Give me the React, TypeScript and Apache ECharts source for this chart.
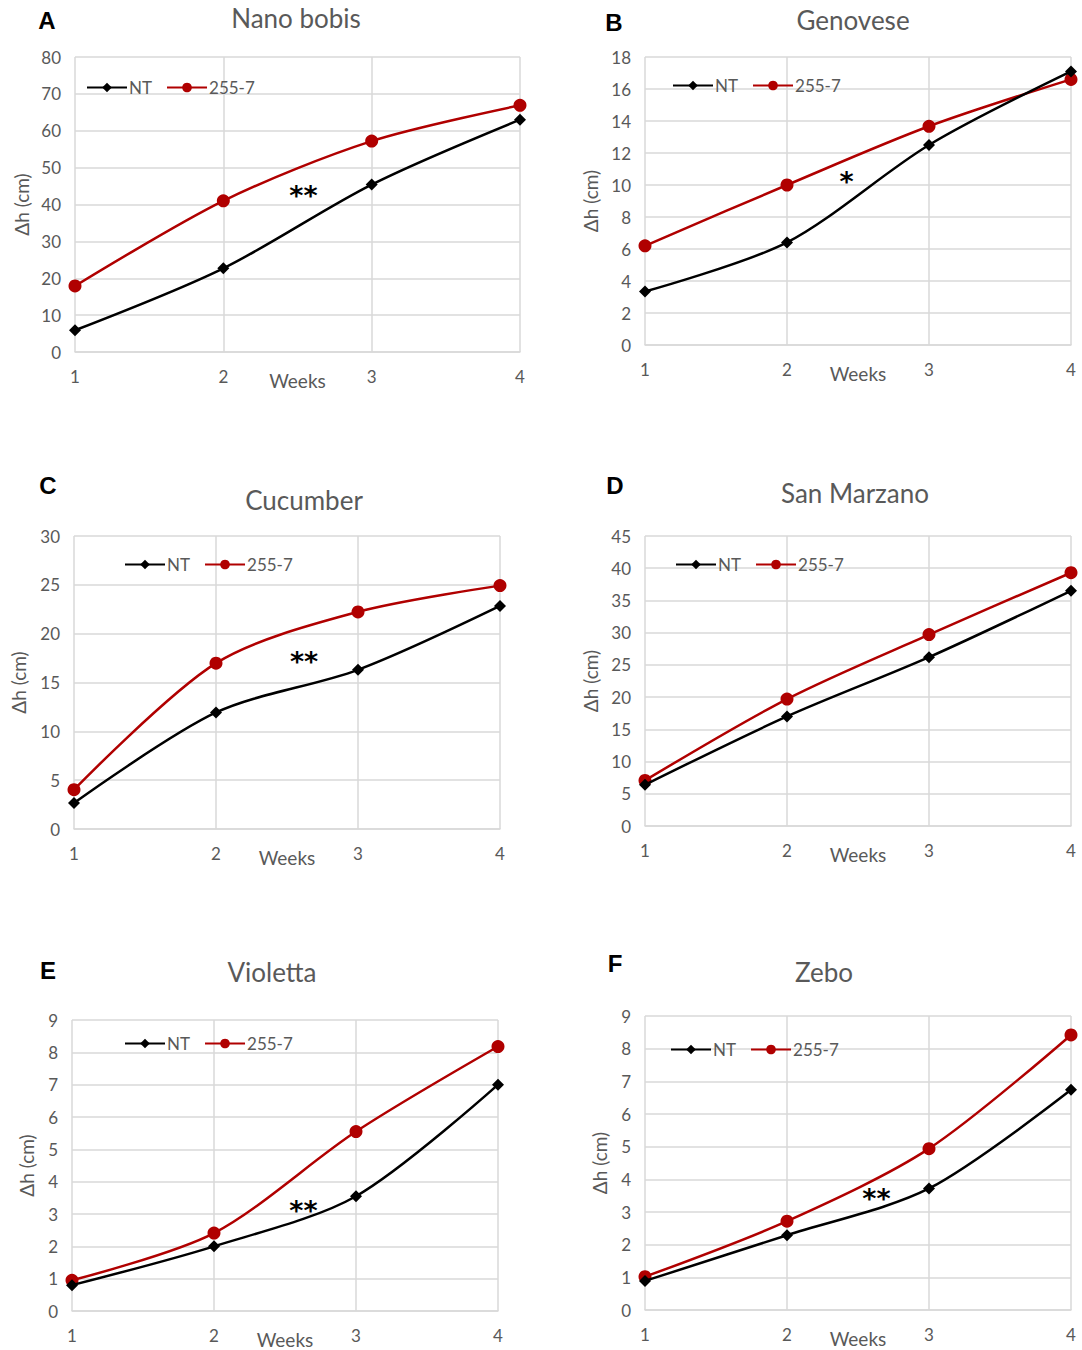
import React, { useEffect, useRef } from "react";
import * as echarts from "echarts";

// Weeks after treatment (x axis of every panel)
const weeks = [1, 2, 3, 4];

const panelLetters = ["A", "B", "C", "D", "E", "F"];
const panelTitles = ["Nano bobis", "Genovese", "Cucumber", "San Marzano", "Violetta", "Zebo"];

// Height increase Δh (cm), untreated control
const ntValues = [
  [5.9, 22.7, 45.4, 63.0],
  [3.34, 6.41, 12.5, 17.1],
  [2.66, 11.93, 16.3, 22.84],
  [6.4, 17.0, 26.2, 36.5],
  [0.8, 2.0, 3.55, 7.0],
  [0.89, 2.29, 3.72, 6.74],
];

// Height increase Δh (cm), strain 255-7
const strainValues = [
  [17.9, 41.0, 57.2, 66.9],
  [6.2, 10.0, 13.67, 16.6],
  [4.02, 16.98, 22.23, 24.92],
  [7.07, 19.7, 29.7, 39.3],
  [0.95, 2.41, 5.55, 8.18],
  [1.02, 2.72, 4.94, 8.42],
];

// Y axis ranges
const yMax = [80, 18, 30, 45, 9, 9];
const yStep = [10, 2, 5, 5, 1, 1];

// Significance markers and where they sit (week, Δh)
const significance = ["**", "*", "**", "", "**", "**"];
const significanceWeek = [2.54, 2.42, 2.62, 0, 2.63, 2.63];
const significanceValue = [42.5, 10.2, 17.2, 0, 3.1, 3.4];

// Panel placement on the page
const layout = [
  { grid: { left: 75, top: 57, width: 445, height: 295 }, title: [296, 18], letter: [47, 20], legend: [86, 89], nameGap: 44 },
  { grid: { left: 645, top: 57, width: 426, height: 288 }, title: [853, 20], letter: [614, 22], legend: [672, 87], nameGap: 45 },
  { grid: { left: 74, top: 536, width: 426, height: 293 }, title: [304, 500], letter: [48, 485], legend: [124, 566], nameGap: 46 },
  { grid: { left: 645, top: 536, width: 426, height: 290 }, title: [855, 493], letter: [615, 485], legend: [675, 566], nameGap: 45 },
  { grid: { left: 72, top: 1020, width: 426, height: 295 }, title: [272, 972], letter: [48, 970], legend: [124, 1045], nameGap: 36 },
  { grid: { left: 645, top: 1016, width: 426, height: 294 }, title: [824, 972], letter: [615, 963], legend: [670, 1051], nameGap: 36 },
];

const FONT = "Lato, 'Open Sans', sans-serif";
const GREY_TEXT = "#595959";
const GRID_LINE = "#d9d9d9";
const NT_COLOR = "#000000";
const STRAIN_COLOR = "#b00000";

function buildOption() {
  const grid: any[] = [];
  const xAxis: any[] = [];
  const yAxis: any[] = [];
  const series: any[] = [];
  const legend: any[] = [];
  const graphic: any[] = [];

  panelTitles.forEach((title, i) => {
    const L = layout[i];
    grid.push({ ...L.grid, containLabel: false });

    xAxis.push({
      type: "value",
      gridIndex: i,
      min: 1,
      max: 4,
      interval: 1,
      name: "Weeks",
      nameLocation: "middle",
      nameGap: 19,
      nameMoveOverlap: false,
      nameTextStyle: { color: GREY_TEXT, fontFamily: FONT, fontSize: 19 },
      axisLine: { show: true, lineStyle: { color: GRID_LINE, width: 1.5 } },
      axisTick: { show: false },
      axisLabel: { color: GREY_TEXT, fontFamily: FONT, fontSize: 17, margin: 16 },
      splitLine: { show: true, lineStyle: { color: GRID_LINE, width: 1.5 } },
    });

    yAxis.push({
      type: "value",
      gridIndex: i,
      min: 0,
      max: yMax[i],
      interval: yStep[i],
      name: "Δh (cm)",
      nameLocation: "middle",
      nameRotate: 90,
      nameGap: L.nameGap,
      nameMoveOverlap: false,
      nameTextStyle: { color: GREY_TEXT, fontFamily: FONT, fontSize: 19 },
      axisLine: { show: false },
      axisTick: { show: false },
      axisLabel: { color: GREY_TEXT, fontFamily: FONT, fontSize: 17, margin: 14 },
      splitLine: { show: true, lineStyle: { color: GRID_LINE, width: 1.5 } },
    });

    series.push({
      type: "line",
      name: "NT",
      xAxisIndex: i,
      yAxisIndex: i,
      smooth: 0.3,
      symbol: "diamond",
      symbolSize: 12,
      itemStyle: { color: NT_COLOR },
      lineStyle: { color: NT_COLOR, width: 2.5 },
      data: weeks.map((w, j) => [w, ntValues[i][j]]),
      z: 3,
    });
    series.push({
      type: "line",
      name: "255-7",
      xAxisIndex: i,
      yAxisIndex: i,
      smooth: 0.3,
      symbol: "circle",
      symbolSize: 13,
      itemStyle: { color: STRAIN_COLOR },
      lineStyle: { color: STRAIN_COLOR, width: 2.5 },
      data: weeks.map((w, j) => [w, strainValues[i][j]]),
      z: 2,
    });

    if (significance[i]) {
      series.push({
        type: "scatter",
        name: "significance",
        xAxisIndex: i,
        yAxisIndex: i,
        symbolSize: 1,
        itemStyle: { opacity: 0 },
        silent: true,
        label: {
          show: true,
          position: "inside",
          formatter: significance[i],
          color: "#000",
          fontFamily: "'DejaVu Sans', sans-serif",
          fontSize: 27,
          fontWeight: "bold",
          opacity: 1,
        },
        data: [[significanceWeek[i], significanceValue[i]]],
        z: 5,
      });
    }

    legend.push({
      data: ["NT", "255-7"],
      left: L.legend[0],
      top: L.legend[1] - 10,
      orient: "horizontal",
      itemWidth: 40,
      itemHeight: 12,
      itemGap: 14,
      padding: 0,
      selectedMode: false,
      textStyle: { color: GREY_TEXT, fontFamily: FONT, fontSize: 17, padding: [0, 0, 0, -3] },
    });

    graphic.push({
      type: "text",
      x: L.title[0],
      y: L.title[1],
      style: {
        text: title,
        fill: GREY_TEXT,
        font: `26px ${FONT}`,
        align: "center",
        verticalAlign: "middle",
      },
    });
    graphic.push({
      type: "text",
      x: L.letter[0],
      y: L.letter[1],
      style: {
        text: panelLetters[i],
        fill: "#000",
        font: "bold 24px 'Liberation Sans', Arial, sans-serif",
        align: "center",
        verticalAlign: "middle",
      },
    });
  });

  return {
    animation: false,
    backgroundColor: "#ffffff",
    grid,
    xAxis,
    yAxis,
    series,
    legend,
    graphic,
  };
}

export default function App() {
  const ref = useRef<HTMLDivElement>(null);

  useEffect(() => {
    document.body.style.margin = "0";
    if (!ref.current) return;
    const chart = echarts.init(ref.current, undefined, { renderer: "svg" });
    chart.setOption(buildOption());
    return () => {
      chart.dispose();
    };
  }, []);

  return <div ref={ref} style={{ width: 1082, height: 1350, background: "#fff" }} />;
}
